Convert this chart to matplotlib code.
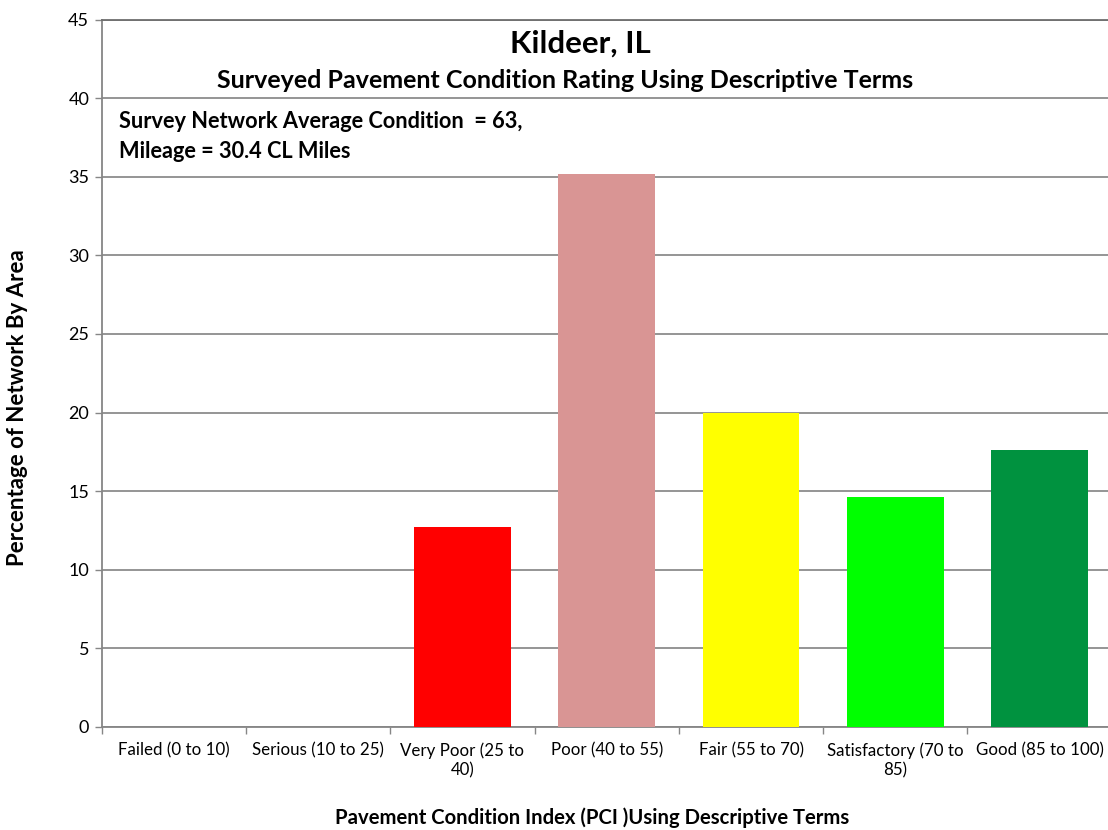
import matplotlib
matplotlib.use("Agg")
import matplotlib.pyplot as plt
import numpy as np

plt.rcParams['font.family'] = ['Lato', 'DejaVu Sans']

categories = ["Failed (0 to 10)", "Serious (10 to 25)", "Very Poor (25 to\n40)",
              "Poor (40 to 55)", "Fair (55 to 70)", "Satisfactory (70 to\n85)",
              "Good (85 to 100)"]
percentages = [0.0, 0.0, 12.7, 35.2, 19.95, 14.6, 17.6]
bar_colors = ["#c00000", "#ff6600", "#ff0000", "#d99594", "#ffff00", "#00ff00", "#00923f"]
y_ticks = [0, 5, 10, 15, 20, 25, 30, 35, 40, 45]

W, H = 1108, 830
fig = plt.figure(figsize=(W / 100, H / 100), dpi=100)
ax = fig.add_axes([0.0918, 0.1241, 0.9116, 0.8524])

x = np.arange(len(categories))
ax.bar(x, percentages, width=0.67, color=bar_colors, zorder=3)

ax.set_xlim(-0.5, len(categories) - 0.5)
ax.set_ylim(0, 45)
ax.set_yticks(y_ticks)
ax.yaxis.grid(True, color="#8c8c8c", linewidth=1.3, zorder=0)
ax.set_axisbelow(True)

ax.set_xticks(x)
ax.set_xticklabels(categories, fontsize=12.2, linespacing=1.3)
ax.set_xticks(np.arange(-0.5, len(categories)), minor=True)
ax.tick_params(axis="x", which="major", length=0, pad=11)
ax.tick_params(axis="x", which="minor", length=5, color="#868686", width=1)
ax.tick_params(axis="y", length=5, color="#868686", width=1, labelsize=13, pad=4)

ax.spines["right"].set_visible(False)
ax.spines["left"].set_color("#868686")
ax.spines["left"].set_linewidth(1.3)
ax.spines["bottom"].set_color("#868686")
ax.spines["bottom"].set_linewidth(1.3)
ax.spines["top"].set_color("#6e6e6e")
ax.spines["top"].set_linewidth(1.3)

# axis titles placed in figure pixels
fig.text(18 / W, 1 - 408 / H, "Percentage of Network By Area", rotation=90,
         ha="center", va="center", fontsize=16, fontweight="bold")
fig.text(592 / W, 1 - 818 / H, "Pavement Condition Index (PCI )Using Descriptive Terms",
         ha="center", va="center", fontsize=14.6, fontweight="bold")

fig.text(0.5235, 0.947, "Kildeer, IL", ha="center", va="center",
         fontsize=22.5, fontweight="bold")
fig.text(0.510, 0.903, "Surveyed Pavement Condition Rating Using Descriptive Terms",
         ha="center", va="center", fontsize=18, fontweight="bold")
fig.text(0.107, 0.866, "Survey Network Average Condition  = 63,\nMileage = 30.4 CL Miles",
         ha="left", va="top", fontsize=15.7, fontweight="bold", linespacing=1.5)

fig.savefig("out.png", dpi=100)
